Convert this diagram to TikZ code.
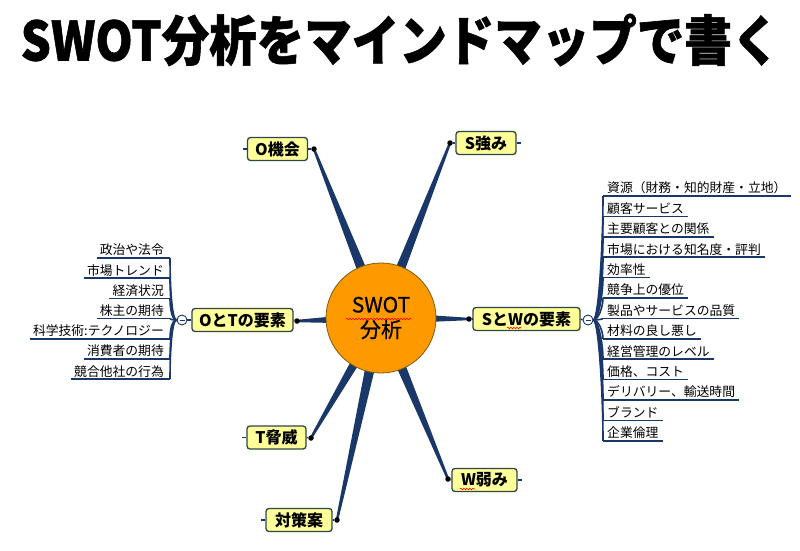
\documentclass[tikz,border=0pt]{standalone}
\usepackage{fontspec}
\setmainfont{Noto Sans CJK JP}
\usetikzlibrary{calc,decorations.pathmorphing}
\definecolor{navy}{HTML}{193769}
\definecolor{boxfill}{HTML}{FFFF99}
\definecolor{boxline}{HTML}{2E4646}
\definecolor{orng}{HTML}{FF9900}
\definecolor{circline}{HTML}{7A5A10}
\pgfdeclarelayer{bg}\pgfsetlayers{bg,main}
\newcommand\taper[2]{\fill[navy] ($(#1)!6pt!90:(#2)$) -- ($(#2)!1.2pt!-90:(#1)$) -- ($(#2)!1.2pt!90:(#1)$) -- ($(#1)!6pt!-90:(#2)$) -- cycle;}
\newcommand\leaffont{\fontsize{12.8}{14}\selectfont}
\tikzset{
 topic/.style={draw=boxline, line width=1.3pt, fill=boxfill, rounded corners=3pt, minimum height=23pt, inner xsep=0pt, inner ysep=0pt, font=\fontsize{16}{16}\selectfont\bfseries},
 enddot/.style={circle, fill=black, inner sep=0pt, minimum size=5.5pt},
 minus/.style={circle, draw=navy, line width=0.9pt, fill=white, inner sep=0pt, minimum size=10pt},
 leafL/.style={anchor=south east, inner sep=0pt, text depth=3pt, font=\leaffont},
 leafR/.style={anchor=south west, inner sep=0pt, text depth=3pt, font=\leaffont},
 branch/.style={draw=navy, line width=1.6pt},
 link/.style={draw=navy, line width=1.3pt},
 squig/.style={draw=red, line width=0.6pt, decorate, decoration={snake, amplitude=0.8pt, segment length=3pt}},
}
\begin{document}
\begin{tikzpicture}[x=1pt,y=-1pt]
\useasboundingbox (0,0) rectangle (800,551);
% title
\node[font=\fontsize{54}{54}\selectfont\bfseries, inner sep=0pt] (title) at (400,40) {\scalebox{0.88}[1]{\addfontfeature{FakeBold=1.2}SWOT分析をマインドマップで書く}};
% centre
\node[circle, draw=circline, line width=0.8pt, fill=orng, minimum size=110pt, inner sep=0pt, align=center, font=\fontsize{21}{25}\selectfont] (c) at (381,318) {\addfontfeature{FakeBold=0.6}SWOT\\\addfontfeature{FakeBold=0.6}分析};
\draw[squig] (346,319) -- (411,319);
% topics
\node[topic, minimum width=60pt] (o) at (277.5,149) {O機会};
\node[topic, minimum width=60pt] (s) at (486,143) {S強み};
\node[topic, minimum width=101pt] (ot) at (242.5,320) {OとTの要素};
\node[topic, minimum width=107pt] (sw) at (526.5,319) {SとWの要素};
\node[topic, minimum width=59pt] (t) at (276.5,437.5) {T脅威};
\node[topic, minimum width=66pt] (cm) at (299,520) {対策案};
\node[topic, minimum width=65pt] (w) at (484.5,480) {W弱み};
\draw[squig] (507,328) -- (521,328);
\draw[squig] (460,489) -- (475,489);
% end dots
\node[enddot] (od) at (314,149) {};
\node[enddot] (sd) at (450,143) {};
\node[enddot] (otd) at (297,321) {};
\node[enddot] (swd) at (469,319) {};
\node[enddot] (td) at (311,438) {};
\node[enddot] (cmd) at (337,520) {};
\node[enddot] (wd) at (448,479) {};
\draw[link] (o.east) -- (od);
\draw[link] (s.west) -- (sd);
\draw[link] (ot.east) -- (otd);
\draw[link] (sw.west) -- (swd);
\draw[link] (t.east) -- (td);
\draw[link] (cm.east) -- (cmd);
\draw[link] (w.west) -- (wd);
% stubs
\draw[link] (o.west) -- +(-4,0);
\draw[link] (s.east) -- +(4,0);
\draw[link] (t.west) -- +(-4,0);
\draw[link] (cm.west) -- +(-4,0);
\draw[link] (w.east) -- +(4,0);
% tapered connectors
\begin{pgfonlayer}{bg}
\taper{c.center}{od}
\taper{c.center}{sd}
\taper{c.center}{otd}
\taper{c.center}{swd}
\taper{c.center}{td}
\taper{c.center}{cmd}
\taper{c.center}{wd}
\end{pgfonlayer}
% minus circles
\node[minus] (mL) at (182,320) {};
\node[minus] (mR) at (588,320) {};
\draw[link] (ot.west) -- (mL.east);
\draw[link] (sw.east) -- (mR.west);
\draw[navy, line width=0.9pt] ([xshift=-2.5pt]mL.center) -- ([xshift=2.5pt]mL.center);
\draw[navy, line width=0.9pt] ([xshift=-2.5pt]mR.center) -- ([xshift=2.5pt]mR.center);
% left leaves
\foreach \t [count=\i from 0] in {政治や法令,市場トレンド,経済状況,株主の期待,科学技術:テクノロジー,消費者の期待,競合他社の行為}{
  \pgfmathsetmacro\yy{258+20.2*\i}
  \pgfmathsetmacro\kk{(320-\yy)*0.4}
  \node[leafL] (L\i) at (164,\yy) {\t};
  \draw[branch] ([xshift=-3pt]L\i.south west) -- ([xshift=6pt]L\i.south east);
  \draw[branch] (mL.west) .. controls +(-5,0) and +(0,\kk) .. ([xshift=6pt]L\i.south east);
}
% right leaves
\foreach \t [count=\i from 0] in {資源（財務・知的財産・立地）,顧客サービス,主要顧客との関係,市場における知名度・評判,効率性,競争上の優位,製品やサービスの品質,材料の良し悪し,経営管理のレベル,価格、コスト,デリバリー、輸送時間,ブランド,企業倫理}{
  \pgfmathsetmacro\yy{196+20.4*\i}
  \pgfmathsetmacro\kk{(320-\yy)*0.4}
  \node[leafR] (R\i) at (607,\yy) {\t};
  \draw[branch] ([xshift=-4pt]R\i.south west) -- ([xshift=4pt]R\i.south east);
  \draw[branch] (mR.east) .. controls +(5,0) and +(0,\kk) .. ([xshift=-4pt]R\i.south west);
}
\end{tikzpicture}
\end{document}
